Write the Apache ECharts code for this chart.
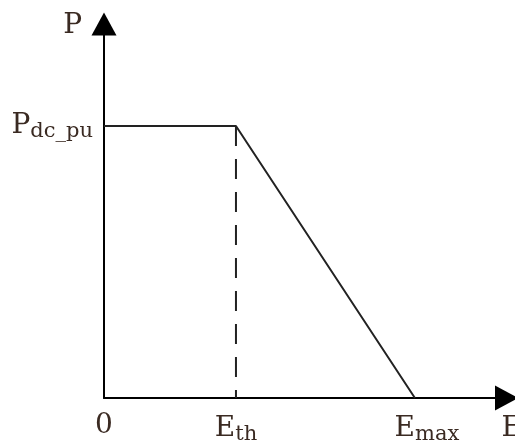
<!DOCTYPE html>
<html>
<head>
<meta charset="utf-8">
<script src="https://cdn.jsdelivr.net/npm/echarts@6/dist/echarts.min.js"></script>
<style>
  html, body { margin: 0; padding: 0; background: #fff; }
  #chart { width: 515px; height: 443px; }
</style>
</head>
<body>
<div id="chart"></div>
<script>
// key energy points (E_th = 1 unit)
var xTickValues = [0, 1, 2.356];
var xTickLabels = ['{m|0}', '{m|E}{s|th}', '{gap|}{m|E}{s|max}'];
var yTickValues = [1];
var yTickLabels = ['{m|P}{s|dc_pu}'];

// P-E characteristic
var curveX = [0, 1, 2.356];
var curveY = [1, 1, 0];
// threshold marker
var thresholdX = [1, 1];
var thresholdY = [1, 0];

var curveData = curveX.map(function (x, i) { return [x, curveY[i]]; });
var thresholdData = thresholdX.map(function (x, i) { return [x, thresholdY[i]]; });

var font = 'DejaVu Serif';
var textColor = '#3a2a22';
var rich = {
    m: { fontFamily: font, fontSize: 28, color: textColor },
    s: { fontFamily: font, fontSize: 21, color: textColor, padding: [12, 0, 0, 0] },
    gap: { width: 24 }
};

var option = {
    animation: false,
    grid: { left: 104, right: 8.5, top: 24, bottom: 45, outerBoundsMode: 'none' },
    xAxis: {
        type: 'value',
        min: 0,
        max: 3.05,
        name: 'E',
        nameLocation: 'end',
        nameGap: -5,
        nameTextStyle: { fontFamily: font, fontSize: 28, color: textColor, verticalAlign: 'top', padding: [17, 0, 0, 0] },
        axisLine: { show: true, symbol: ['none', 'triangle'], symbolSize: [25, 23], lineStyle: { color: '#000', width: 2 } },
        axisTick: { show: false },
        splitLine: { show: false },
        axisLabel: {
            customValues: xTickValues,
            margin: 14,
            rich: rich,
            formatter: function (v) {
                var i = xTickValues.indexOf(v);
                return i >= 0 ? xTickLabels[i] : '';
            }
        }
    },
    yAxis: {
        type: 'value',
        min: 0,
        max: 1.375,
        name: 'P',
        nameLocation: 'end',
        nameGap: -2,
        nameTextStyle: { fontFamily: font, fontSize: 28, color: textColor, align: 'right', verticalAlign: 'middle', padding: [0, 22, 0, 0] },
        axisLine: { show: true, symbol: ['none', 'triangle'], symbolSize: [25, 23], lineStyle: { color: '#000', width: 2 } },
        axisTick: { show: false },
        splitLine: { show: false },
        axisLabel: {
            customValues: yTickValues,
            margin: 11,
            rich: rich,
            formatter: function (v) {
                var i = yTickValues.indexOf(v);
                return i >= 0 ? yTickLabels[i] : '';
            }
        }
    },
    series: [
        {
            type: 'line',
            data: curveData,
            symbol: 'none',
            lineStyle: { color: '#222', width: 2 }
        },
        {
            type: 'line',
            data: thresholdData,
            symbol: 'none',
            lineStyle: { color: '#222', width: 2, type: [20, 13] }
        }
    ]
};

var myChart = echarts.init(document.getElementById('chart'));
myChart.setOption(option);
</script>
</body>
</html>
